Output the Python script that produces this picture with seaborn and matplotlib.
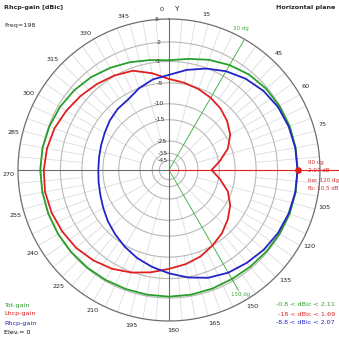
import numpy as np
import pandas as pd
import matplotlib
matplotlib.use("Agg")
import matplotlib.pyplot as plt
import seaborn as sns

# Pattern samples, azimuth in degrees (0 = Y axis, clockwise)
azimuth_deg = [0, 10, 20, 30, 40, 50, 60, 70, 80, 90, 100, 110,
               120, 130, 140, 150, 160, 170, 180, 190, 200, 210, 220, 230,
               240, 250, 260, 270, 280, 290, 300, 310, 320, 330, 340, 350]

tot_gain = [-0.8, -0.3, 0.4, 1.0, 1.5, 1.8, 1.95, 2.05, 2.08, 2.09, 2.08, 2.05,
            1.95, 1.85, 1.75, 1.7, 1.75, 1.8, 1.8, 1.8, 1.8, 1.85, 1.9, 1.95,
            2.0, 2.05, 2.08, 2.11, 2.05, 1.9, 1.7, 1.4, 1.0, 0.5, 0.0, -0.5]

lhcp_gain = [-4.2, -4.7, -5.2, -5.8, -6.5, -7.5, -8.8, -11.0, -14.5, -18.0, -14.5, -11.0,
             -8.8, -7.3, -6.0, -5.0, -4.0, -3.3, -2.7, -1.8, -0.9, -0.1, 0.5, 1.0,
             1.3, 1.55, 1.69, 1.6, 1.4, 1.1, 0.6, 0.1, -0.4, -0.9, -1.5, -2.8]

rhcp_gain = [-3.4, -2.2, -1.1, -0.1, 0.7, 1.3, 1.7, 1.9, 2.03, 2.07, 2.03, 1.9,
             1.7, 1.4, 1.0, 0.6, 0.0, -0.9, -1.9, -2.8, -3.7, -4.7, -5.7, -6.6,
             -7.5, -8.2, -8.6, -8.8, -8.7, -8.4, -7.9, -7.2, -6.6, -6.2, -5.0, -4.0]

radial_ticks = [5, 2, -1, -5, -10, -15, -25, -35, -45]
angle_ticks = [15, 45, 60, 75, 105, 120, 135, 150, 165, 180, 195, 210,
               225, 240, 255, 270, 285, 300, 315, 330, 345]

series_names = ["Tot-gain", "Lhcp-gain", "Rhcp-gain"]
series_ranges = ["-0.8 < dBic < 2.11", "-18 < dBic < 1.69", "-8.8 < dBic < 2.07"]
series_colors = ["#2a9e2a", "#e02020", "#2323c8"]

MAX_DB = 5.0


def to_radius(db):
    """Logarithmic radial scale, outer ring = MAX_DB."""
    return np.exp(-0.055 * (MAX_DB - np.asarray(db, dtype=float)))


sns.set_style("white")
plt.rcParams["font.family"] = ["DejaVu Sans"]

W = H = 339
fig = plt.figure(figsize=(W / 100, H / 100), dpi=100)
cx, cy, R = 169, 170, 151
ax = fig.add_axes([(cx - R) / W, (H - cy - R) / H, 2 * R / W, 2 * R / H],
                  projection="polar")
ax.set_theta_zero_location("N")
ax.set_theta_direction(-1)
ax.set_ylim(0, 1)
ax.set_axis_off()

grid_c = "#dadada"
ring_c = "#b8b8b8"
dark_c = "#6e6e6e"

# rings
th_full = np.linspace(0, 2 * np.pi, 721)
for db in radial_ticks[1:]:
    ax.plot(th_full, np.full_like(th_full, to_radius(db)), color=ring_c, lw=0.8, zorder=1)
ax.plot(th_full, np.ones_like(th_full), color=dark_c, lw=0.9, zorder=1, clip_on=False)

# spokes, denser towards the outside
for a in range(0, 360, 5):
    ax.plot([np.radians(a)] * 2, [to_radius(-5), 1.0], color=grid_c, lw=0.55, zorder=0.5)
for a in range(0, 360, 15):
    ax.plot([np.radians(a)] * 2, [to_radius(-25), to_radius(-5)], color=grid_c, lw=0.55, zorder=0.5)
for a in range(0, 360, 45):
    ax.plot([np.radians(a)] * 2, [to_radius(-45), to_radius(-25)], color=grid_c, lw=0.55, zorder=0.5)

# main axes
ax.plot([0, 0], [0, 1.0], color=dark_c, lw=0.8, zorder=2)
ax.plot([np.pi, np.pi], [0, 1.0], color=dark_c, lw=0.8, zorder=2)
ax.plot([1.5 * np.pi, 1.5 * np.pi], [0, 1.0], color=dark_c, lw=0.8, zorder=2)

# beamwidth lines
ax.plot([np.radians(30)] * 2, [0, 1.0], color="#3cb43c", lw=0.6, zorder=2)
ax.plot([np.radians(150)] * 2, [0, 0.92], color="#3cb43c", lw=0.6, zorder=2)

# pattern curves
for name, vals, col in zip(series_names, [tot_gain, lhcp_gain, rhcp_gain], series_colors):
    th = np.radians(np.append(azimuth_deg, azimuth_deg[0] + 360))
    rr = to_radius(np.append(vals, vals[0]))
    df = pd.DataFrame({"theta": th, "r": rr})
    sns.lineplot(data=df, x="theta", y="r", sort=False, estimator=None,
                 color=col, lw=1.3, ax=ax, legend=False, zorder=3)

# marker at the maximum
peak_az, peak_db = 90, max(rhcp_gain)
ax.plot([np.radians(peak_az)] * 2, [0, 1.13], color="#e02020", lw=0.8, zorder=4, clip_on=False)
ax.plot([np.radians(peak_az)], [to_radius(peak_db)], "o", color="#e02020", ms=3.8, zorder=5)

fs = 4.6
# radial labels
for db in radial_ticks:
    ax.text(np.radians(-4), to_radius(db), f"{db:g}", ha="right", va="center",
            fontsize=fs, color="#333333", zorder=6)

# angle labels
for a in angle_ticks:
    ax.text(np.radians(a - 1.5), 1.06, f"{a}", ha="center", va="center",
            fontsize=fs, color="#222222", clip_on=False)
ax.text(np.radians(-2.5), 1.065, "0", ha="center", va="center", fontsize=fs, color="#222222", clip_on=False)
ax.text(np.radians(2.8), 1.065, "Y", ha="center", va="center", fontsize=fs + 0.6, color="#222222", clip_on=False)

ax.text(np.radians(27), 1.05, "30 dg", ha="center", va="center", fontsize=fs - 0.6, color="#3cb43c", clip_on=False)
ax.text(np.radians(150), 0.95, "150 dg", ha="center", va="center", fontsize=fs - 0.6, color="#3cb43c", clip_on=False)


def px(x, y):
    return x / W, 1 - y / H


fig.text(*px(4, 7), "Rhcp-gain [dBic]", fontsize=fs, fontweight="bold", va="center", ha="left")
fig.text(*px(4, 25), "Freq=198", fontsize=fs, va="center", ha="left")
fig.text(*px(335, 7), "Horizontal plane", fontsize=fs, fontweight="bold", va="center", ha="right")

for i, (name, rng, col) in enumerate(zip(series_names, series_ranges, series_colors)):
    y = 305 + 9 * i
    fig.text(*px(4, y), name, fontsize=fs, color=col, va="center", ha="left")
    fig.text(*px(335, y), rng, fontsize=fs, color=col, va="center", ha="right")
fig.text(*px(4, 332), "Elev.= 0", fontsize=fs, color="black", va="center", ha="left")

mk_c = "#d23030"
for i, t in enumerate(["90 dg", f"{peak_db:.2f} dB", "bw: 120 dg", "fb: 10.5 dB"]):
    fig.text(*px(308, 162 + 9 * i), t, fontsize=fs - 0.5, color=mk_c, va="center", ha="left")

fig.savefig("out.png", dpi=100)
